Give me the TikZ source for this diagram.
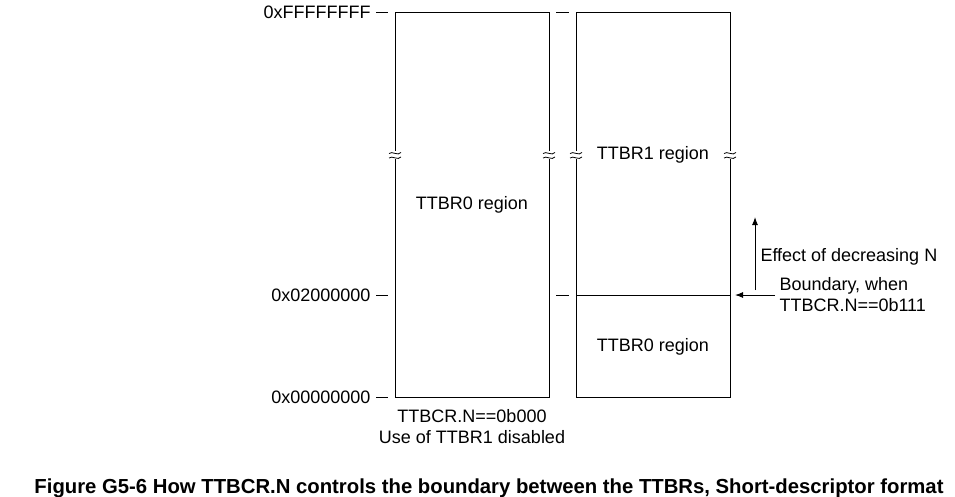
\documentclass[tikz,border=0pt]{standalone}
\usepackage{fontspec}
\setmainfont{Liberation Sans}
\usetikzlibrary{arrows.meta}
\begin{document}
\begin{tikzpicture}[x=1pt,y=-1pt,line width=1pt,
 lab/.style={font=\fontsize{18}{21}\selectfont,inner sep=0pt},
 tip/.style={-{Latex[length=8pt,width=6pt]}},
 brk/.pic={\fill[white](-7,-4)rectangle(7,4);
   \draw[line width=0.8pt](-6,-1.5) .. controls (-3,-4.5) and (3,1.5) .. (6,-2.5);
   \draw[line width=0.8pt](-6,3) .. controls (-3,0) and (3,6) .. (6,2);}]
\useasboundingbox (0,0) rectangle (955,496);
\draw (395,12) rectangle (549,397);
\draw (576,12) rectangle (730,397);
\draw (576,295) -- (730,295);
\foreach \x in {395,549,576,730} \pic at (\x,155) {brk};
\foreach \y in {12,295,397} \draw (376,\y) -- (388,\y);
\foreach \y in {12,295} \draw (556,\y) -- (569,\y);
\node[lab,anchor=east] (a) at (371,12) {0xFFFFFFFF};
\node[lab,anchor=east] (b) at (371,295) {0x02000000};
\node[lab,anchor=east] (c) at (371,397) {0x00000000};
\node[lab] (r0) at (472,205) {TTBR0 region};
\node[lab] (r1) at (653,155) {TTBR1 region};
\node[lab] (r2) at (653,347) {TTBR0 region};
\node[lab,align=center] (n) at (472,427) {TTBCR.N==0b000\\Use of TTBR1 disabled};
\coordinate (u0) at (755,290); \coordinate (u1) at (755,217);
\draw[tip] (u0) -- (u1);
\coordinate (l0) at (775,295); \coordinate (l1) at (735,295);
\draw[tip] (l0) -- (l1);
\node[lab,anchor=west] (e) at (760,257) {Effect of decreasing N};
\node[lab,anchor=west,align=left] (bd) at (779,295) {Boundary, when\\TTBCR.N==0b111};
\node[font=\bfseries\fontsize{20.3}{24}\selectfont,inner sep=0pt] (cap) at (489,488) {Figure G5-6 How TTBCR.N controls the boundary between the TTBRs, Short-descriptor format};
\end{tikzpicture}
\end{document}
